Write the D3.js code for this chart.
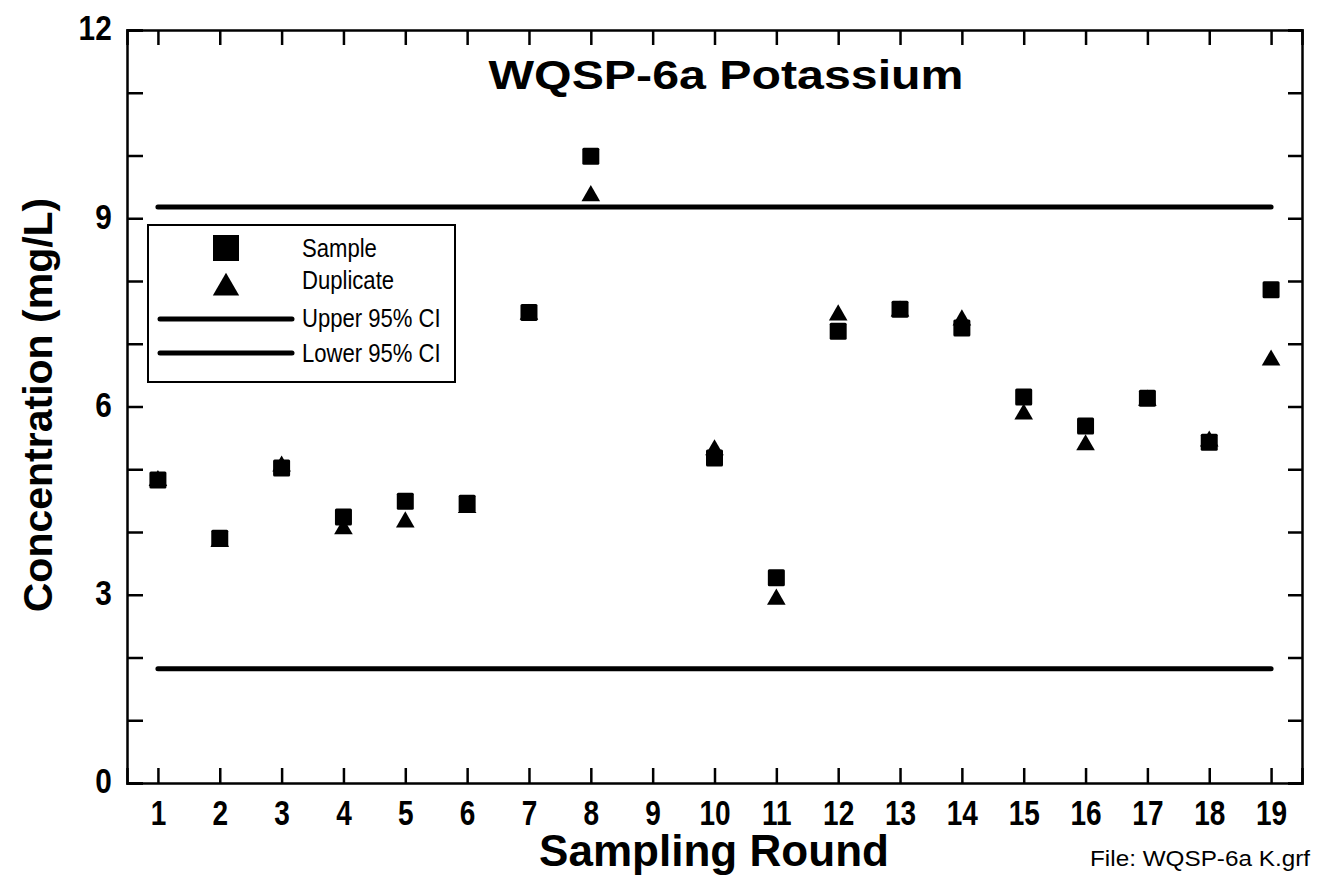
<!DOCTYPE html>
<html>
<head>
<meta charset="utf-8">
<script src="https://cdn.jsdelivr.net/npm/d3@7"></script>
<style>
  body { margin: 0; background: #fff; }
  svg { display: block; }
  text { font-family: 'Liberation Sans', Arial, sans-serif; }
</style>
</head>
<body>
<div id="graph"></div>
<script>
// sampling rounds 1..19, round 9 has no sample
var rounds = [1, 2, 3, 4, 5, 6, 7, 8, 10, 11, 12, 13, 14, 15, 16, 17, 18, 19]
var sample = [4.83, 3.90, 5.02, 4.24, 4.49, 4.46, 7.50, 9.99, 5.18, 3.27, 7.20, 7.55, 7.25, 6.15, 5.69, 6.13, 5.43, 7.86]
var duplicate = [4.85, 3.88, 5.08, 4.08, 4.19, 4.42, 7.50, 9.39, 5.34, 2.96, 7.49, 7.55, 7.41, 5.91, 5.42, 6.13, 5.48, 6.77]
var upperCI = 9.18
var lowerCI = 1.82
var xTicks = d3.range(1, 20)
var yTicks = d3.range(0, 13)
var yLabels = [0, 3, 6, 9, 12]
var legendItems = ['Sample', 'Duplicate', 'Upper 95% CI', 'Lower 95% CI']

var width = 1319, height = 875
var margin = {left: 127, right: 17, top: 30, bottom: 92}

var svg = d3.select('#graph').append('svg')
  .attr('width', width).attr('height', height)

var x = d3.scaleLinear().domain([0.5, 19.5]).range([margin.left, width - margin.right])
var y = d3.scaleLinear().domain([0, 12]).range([height - margin.bottom, margin.top])

var pts = rounds.map((r, i) => ({r, s: sample[i], d: duplicate[i]}))

// axes, ticks pointing inward
var bottom = svg.append('g').attr('transform', `translate(0,${y(0)})`)
  .call(d3.axisBottom(x).tickValues(xTicks).tickSize(-15).tickPadding(17).tickFormat(d3.format('d')))
bottom.selectAll('text')
  .attr('transform', 'scale(0.8,1)')
  .style('font-size', '35px').style('font-weight', 'bold')

svg.append('g').attr('transform', `translate(0,${y(12)})`)
  .call(d3.axisTop(x).tickValues(xTicks).tickSize(-15).tickFormat(''))

var left = svg.append('g').attr('transform', `translate(${x(0.5)},0)`)
  .call(d3.axisLeft(y).tickValues(yTicks).tickSize(-16).tickPadding(18)
    .tickFormat(d => yLabels.includes(d) ? d : ''))
left.selectAll('text')
  .attr('transform', 'scale(0.85,1)').attr('dy', '0.28em')
  .style('font-size', '35px').style('font-weight', 'bold')

svg.append('g').attr('transform', `translate(${x(19.5)},0)`)
  .call(d3.axisRight(y).tickValues(yTicks).tickSize(-14).tickFormat(''))

svg.selectAll('.domain').attr('stroke', '#000').attr('stroke-width', 2.5)
svg.selectAll('.tick line').attr('stroke', '#000').attr('stroke-width', 2.5)

// confidence lines
svg.selectAll('line.ci').data([upperCI, lowerCI]).enter().append('line')
  .attr('class', 'ci')
  .attr('x1', x(1)).attr('x2', x(19))
  .attr('y1', d => y(d)).attr('y2', d => y(d))
  .attr('stroke', '#000').attr('stroke-width', 5).attr('stroke-linecap', 'round')

var sq = 17
var tri = d3.symbol().type(d3.symbolTriangle).size(150)
var bigTri = d3.symbol().type(d3.symbolTriangle).size(300)

svg.selectAll('rect.sample').data(pts).enter().append('rect')
  .attr('class', 'sample')
  .attr('x', d => x(d.r) - sq / 2).attr('y', d => y(d.s) - sq / 2)
  .attr('width', sq).attr('height', sq).attr('rx', 1.5)
  .attr('fill', '#000')

svg.selectAll('path.dup').data(pts).enter().append('path')
  .attr('class', 'dup')
  .attr('transform', d => `translate(${x(d.r)},${y(d.d) + 2})`)
  .attr('d', tri).attr('fill', '#000')

// title
svg.append('text')
  .attr('x', 726).attr('y', 89).attr('text-anchor', 'middle')
  .attr('textLength', 475).attr('lengthAdjust', 'spacingAndGlyphs')
  .style('font-size', '41px').style('font-weight', 'bold')
  .text('WQSP-6a Potassium')

// axis titles
svg.append('text')
  .attr('x', 714).attr('y', 866).attr('text-anchor', 'middle')
  .attr('textLength', 350).attr('lengthAdjust', 'spacingAndGlyphs')
  .style('font-size', '44px').style('font-weight', 'bold')
  .text('Sampling Round')

svg.append('text')
  .attr('transform', 'translate(52,405) rotate(-90)').attr('text-anchor', 'middle')
  .style('font-size', '41px').style('font-weight', 'bold')
  .text('Concentration (mg/L)')

svg.append('text')
  .attr('x', 1310).attr('y', 866).attr('text-anchor', 'end')
  .attr('textLength', 220).attr('lengthAdjust', 'spacingAndGlyphs')
  .style('font-size', '22px')
  .text('File: WQSP-6a K.grf')

// legend
var lg = svg.append('g').attr('transform', 'translate(148,225)')
lg.append('rect').attr('width', 307).attr('height', 157)
  .attr('fill', '#fff').attr('stroke', '#000').attr('stroke-width', 2)

var rowY = [23, 60, 94, 128]
var textY = [32, 64, 102, 137]
lg.append('rect').attr('x', 78 - 13).attr('y', rowY[0] - 13).attr('width', 26).attr('height', 26).attr('fill', '#000')
lg.append('path').attr('transform', `translate(78,${rowY[1] + 3})`).attr('d', bigTri).attr('fill', '#000')
lg.selectAll('line.leg').data([2, 3]).enter().append('line')
  .attr('x1', 12).attr('x2', 144)
  .attr('y1', i => rowY[i]).attr('y2', i => rowY[i])
  .attr('stroke', '#000').attr('stroke-width', 5).attr('stroke-linecap', 'round')

lg.selectAll('text.leg').data(legendItems).enter().append('text')
  .attr('transform', (d, i) => `translate(154,${textY[i]}) scale(0.85,1)`)
  .style('font-size', '26px')
  .text(d => d)
</script>
</body>
</html>
